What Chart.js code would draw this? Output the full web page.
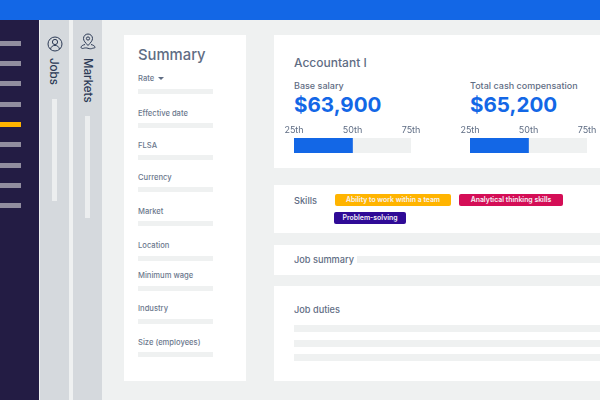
<!DOCTYPE html>
<html><head><meta charset="utf-8">
<script src="https://cdn.jsdelivr.net/npm/chart.js@4"></script>
<style>
html,body{margin:0;padding:0;width:600px;height:400px;overflow:hidden;background:#eff1f1;font-family:Inter,"Noto Sans",sans-serif;}
.b{position:absolute}
.t{position:absolute;white-space:nowrap;color:#5f6d84;line-height:1;transform:translateY(-50%)}
.l{font-size:7.6px;font-weight:500;color:#6b788d;left:138px;margin-top:1px}
.s{position:absolute;background:#eff1f1}
.n{position:absolute;left:0;width:21px;height:5px;background:#918d9f}
.tag{position:absolute;height:12px;border-radius:2px;color:#f6f3f6;font-size:6.900px;font-weight:600;line-height:12px;text-align:center;white-space:nowrap}
.v{position:absolute;writing-mode:vertical-rl;color:#2c3a55;font-size:11.500px;font-weight:500;line-height:1;white-space:nowrap}
canvas{position:absolute}
</style></head><body>
<div class="b" style="left:0;top:0;width:600px;height:20px;background:#1367e6"></div>
<div class="b" style="left:0;top:20px;width:39px;height:380px;background:#231c44"></div>
<div class="n" style="top:41px"></div><div class="n" style="top:61px"></div><div class="n" style="top:81px"></div><div class="n" style="top:102px"></div>
<div class="n" style="top:122px;background:#ffb400"></div>
<div class="n" style="top:142px"></div><div class="n" style="top:163px"></div><div class="n" style="top:183px"></div><div class="n" style="top:203px"></div>
<div class="b" style="left:40px;top:20px;width:29px;height:380px;background:#d5d9dd"></div>
<div class="b" style="left:73px;top:20px;width:29px;height:380px;background:#d5d9dd"></div>
<svg class="b" style="left:46px;top:35px" width="18" height="18" viewBox="0 0 18 18" fill="none" stroke="#2c3a55" stroke-width="1"><circle cx="9" cy="9" r="7"/><circle cx="9" cy="7" r="2.600"/><path d="M4.500 14c.8-2.600 2.400-3.600 4.500-3.600s3.700 1 4.500 3.600"/></svg>
<svg class="b" style="left:79px;top:33px" width="18" height="18" viewBox="0 0 18 18" fill="none" stroke="#2c3a55" stroke-width="1"><path d="M9 12.500C6.500 9.800 4.500 7.800 4.500 5.500a4.500 4.500 0 0 1 9 0C13.500 7.800 11.500 9.800 9 12.500z"/><circle cx="9" cy="5.500" r="1.600"/><path d="M6 11.500c-2 .5-4 1.500-4 2.800 0 1 1.500 1.500 2.500 1 1-.4 3-.6 4.500 0 1.500.6 3.500.6 4.500 0 1-.4 2.500 0 2.500-1 0-1.300-2-2.300-4-2.800"/></svg>
<div class="v" style="left:47px;top:58px">Jobs</div>
<div class="v" style="left:81px;top:58px">Markets</div>
<div class="b" style="left:52px;top:99px;width:5px;height:102px;background:#eceeef"></div>
<div class="b" style="left:85px;top:116px;width:5px;height:102px;background:#eceeef"></div>

<div class="b" style="left:124px;top:35px;width:122px;height:346px;background:#fff"></div>
<div class="t" style="left:138px;top:54.500px;font-size:14.800px;font-weight:500">Summary</div>
<div class="t l" style="top:78px">Rate</div>
<div class="b" style="left:158px;top:77px;width:0;height:0;border-left:3px solid transparent;border-right:3px solid transparent;border-top:3px solid #5f6d84"></div>
<div class="s" style="left:138px;top:89px;width:75px;height:5px"></div>
<div class="t l" style="top:113px">Effective date</div><div class="s" style="left:138px;top:123px;width:75px;height:5px"></div>
<div class="t l" style="top:145px">FLSA</div><div class="s" style="left:138px;top:155px;width:75px;height:5px"></div>
<div class="t l" style="top:177px">Currency</div><div class="s" style="left:138px;top:187px;width:75px;height:5px"></div>
<div class="t l" style="top:211px">Market</div><div class="s" style="left:138px;top:221px;width:75px;height:5px"></div>
<div class="t l" style="top:245px">Location</div><div class="s" style="left:138px;top:256px;width:75px;height:5px"></div>
<div class="t l" style="top:275px">Minimum wage</div><div class="s" style="left:138px;top:286px;width:75px;height:5px"></div>
<div class="t l" style="top:308px">Industry</div><div class="s" style="left:138px;top:319px;width:75px;height:5px"></div>
<div class="t l" style="top:342px">Size (employees)</div><div class="s" style="left:138px;top:352px;width:75px;height:5px"></div>

<div class="b" style="left:274px;top:35px;width:326px;height:133px;background:#fff"></div>
<div class="t" style="left:294px;top:62.500px;font-size:12px;font-weight:500">Accountant I</div>
<div class="t" style="left:294px;top:85px;font-size:9px;font-weight:500" id="n0"></div>
<div class="t" style="left:470px;top:85px;font-size:9px;font-weight:500" id="n1"></div>
<div class="t" style="left:294px;top:104.500px;font-size:20.600px;font-weight:700;color:#1367e6" id="a0"></div>
<div class="t" style="left:470px;top:104.500px;font-size:20.600px;font-weight:700;color:#1367e6" id="a1"></div>
<canvas id="c0" width="160" height="40" style="left:274px;top:114px"></canvas>
<canvas id="c1" width="150" height="40" style="left:450px;top:114px"></canvas>

<div class="b" style="left:274px;top:185px;width:326px;height:48px;background:#fff"></div>
<div class="t" style="left:294px;top:200.500px;font-size:9.200px;font-weight:500">Skills</div>
<div class="tag" style="left:335px;top:193.500px;width:116px;background:#ffb400">Ability to work within a team</div>
<div class="tag" style="left:459px;top:193.500px;width:104px;background:#d40e56">Analytical thinking skills</div>
<div class="tag" style="left:334px;top:211.500px;width:72px;background:#2f0a96">Problem-solving</div>

<div class="b" style="left:274px;top:245px;width:326px;height:30px;background:#fff"></div>
<div class="t" style="left:294px;top:260px;font-size:9.200px;font-weight:500">Job summary</div>
<div class="s" style="left:357px;top:256px;width:243px;height:7px"></div>

<div class="b" style="left:274px;top:286px;width:326px;height:95px;background:#fff"></div>
<div class="t" style="left:294px;top:310px;font-size:9.200px;font-weight:500">Job duties</div>
<div class="s" style="left:294px;top:325px;width:306px;height:7px"></div>
<div class="s" style="left:294px;top:340px;width:306px;height:6.500px"></div>
<div class="s" style="left:294px;top:354px;width:306px;height:7px"></div>

<script>
const metrics = ["Base salary", "Total cash compensation"];
const amounts = ["$63,900", "$65,200"];
const percentileTicks = [25, 50, 75];
const percentileReached = [50, 50];

metrics.forEach((name, i) => {
  document.getElementById("n" + i).textContent = name;
  document.getElementById("a" + i).textContent = amounts[i];
  const cv = document.getElementById("c" + i);
  new Chart(cv, {
    type: "bar",
    data: {
      labels: [name],
      datasets: [
        { data: [[percentileTicks[0], percentileReached[i]]], backgroundColor: "#1367e6", order: 1 },
        { data: [[percentileTicks[0], percentileTicks[2]]], backgroundColor: "#eff1f1", order: 2 }
      ]
    },
    options: {
      indexAxis: "y",
      responsive: false,
      animation: false,
      events: [],
      layout: { padding: { left: 20, right: cv.width - 137, top: 9, bottom: 1 } },
      plugins: { legend: { display: false }, tooltip: { enabled: false } },
      datasets: { bar: { grouped: false, barPercentage: 1, categoryPercentage: 1 } },
      scales: {
        x: {
          type: "linear", position: "top",
          min: percentileTicks[0], max: percentileTicks[2],
          afterBuildTicks: ax => { ax.ticks = percentileTicks.map(v => ({ value: v })); },
          grid: { display: false, drawTicks: false }, border: { display: false },
          ticks: {
            maxRotation: 0, padding: 2.500, autoSkip: false,
            color: "#5f6d84", font: { family: "Inter", size: 9 },
            callback: v => v + "th"
          }
        },
        y: { display: false }
      }
    }
  });
});
</script>
</body></html>
